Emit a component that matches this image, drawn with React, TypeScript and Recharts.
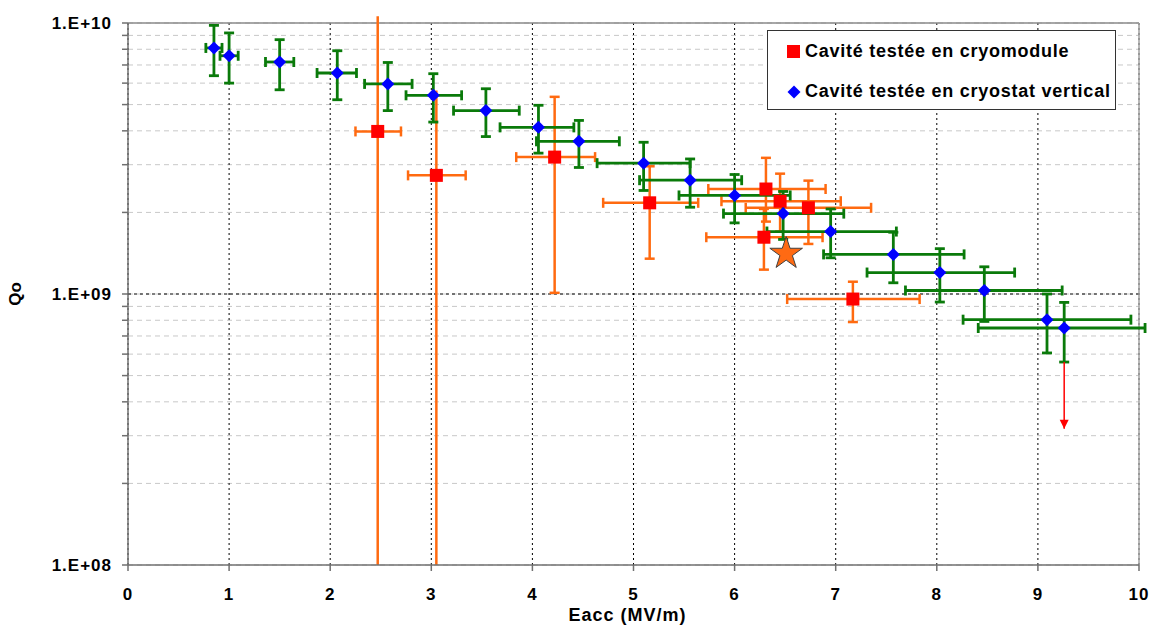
import React from 'react';
import {
  ScatterChart,
  Scatter,
  XAxis,
  YAxis,
  CartesianGrid,
  ErrorBar,
  ReferenceLine,
  Label,
  Symbols,
} from 'recharts';

// Cavité testée en cryomodule (red squares)
const cryoE = [2.47, 3.05, 4.22, 5.16, 6.31, 6.45, 6.73, 6.29, 7.17];
const cryoQ = [3.98e9, 2.74e9, 3.2e9, 2.17e9, 2.44e9, 2.2e9, 2.08e9, 1.62e9, 9.58e8];
const cryoELow = [2.25, 2.77, 3.84, 4.7, 5.74, 5.87, 6.11, 5.72, 6.52];
const cryoEHigh = [2.7, 3.34, 4.62, 5.64, 6.9, 7.05, 7.35, 6.87, 7.83];
// the first two bars run down to the bottom of the plot
const cryoQLow = [1e8, 1e8, 1.01e9, 1.35e9, 1.85e9, 1.7e9, 1.53e9, 1.23e9, 7.88e8];
const cryoQHigh = [1.06e10, 5.63e9, 5.34e9, 2.96e9, 3.18e9, 2.78e9, 2.62e9, 2.06e9, 1.11e9];

// Cavité testée en cryostat vertical (blue diamonds)
const vertE = [0.85, 1.0, 1.5, 2.07, 2.57, 3.02, 3.54, 4.06, 4.46, 5.1, 5.56, 6.0, 6.48, 6.95, 7.57, 8.03, 8.47, 9.09, 9.26];
const vertQ = [8.09e9, 7.57e9, 7.18e9, 6.54e9, 5.96e9, 5.41e9, 4.75e9, 4.12e9, 3.66e9, 3.04e9, 2.63e9, 2.31e9, 1.98e9, 1.7e9, 1.4e9, 1.2e9, 1.03e9, 8.04e8, 7.49e8];
const vertELow = [0.77, 0.91, 1.36, 1.87, 2.34, 2.75, 3.22, 3.68, 4.04, 4.64, 5.06, 5.45, 5.89, 6.32, 6.88, 7.31, 7.69, 8.26, 8.41];
const vertEHigh = [0.93, 1.09, 1.64, 2.26, 2.81, 3.3, 3.87, 4.41, 4.86, 5.56, 6.07, 6.55, 7.08, 7.6, 8.27, 8.77, 9.24, 9.92, 10.06];
const vertQLow = [6.39e9, 6.0e9, 5.67e9, 5.21e9, 4.75e9, 4.31e9, 3.81e9, 3.31e9, 2.93e9, 2.41e9, 2.09e9, 1.83e9, 1.59e9, 1.36e9, 1.1e9, 9.34e8, 7.92e8, 6.06e8, 5.61e8];
const vertQHigh = [9.8e9, 9.19e9, 8.68e9, 7.9e9, 7.15e9, 6.5e9, 5.72e9, 4.97e9, 4.37e9, 3.63e9, 3.15e9, 2.76e9, 2.39e9, 2.06e9, 1.69e9, 1.47e9, 1.26e9, 1.0e9, 9.31e8];

// orange star
const starE = [6.51];
const starQ = [1.41e9];

// red arrow under the last vertical point
const arrowE = [9.26, 9.26];
const arrowQ = [5.61e8, 3.18e8];

const xTicks = [0, 1, 2, 3, 4, 5, 6, 7, 8, 9, 10];
const yTicks = [
  1e8, 2e8, 3e8, 4e8, 5e8, 6e8, 7e8, 8e8, 9e8,
  1e9, 2e9, 3e9, 4e9, 5e9, 6e9, 7e9, 8e9, 9e9, 1e10,
];

const FONT = '"Liberation Sans", Arial, sans-serif';
const Q_MIN = 1e8;

const buildRows = (
  e: number[], q: number[], eLo: number[], eHi: number[], qLo: number[], qHi: number[],
) =>
  e.map((x, i) => ({
    x,
    q: q[i],
    open: qLo[i] <= Q_MIN,
    errX: [x - eLo[i], eHi[i] - x],
    errY: [q[i] - qLo[i], qHi[i] - q[i]],
  }));

const cryoAll = buildRows(cryoE, cryoQ, cryoELow, cryoEHigh, cryoQLow, cryoQHigh);
// bars that reach the axis are drawn without caps
const cryoRows = cryoAll.filter((r) => !r.open);
const cryoOpenRows = cryoAll.filter((r) => r.open);
const vertRows = buildRows(vertE, vertQ, vertELow, vertEHigh, vertQLow, vertQHigh);
const starRows = starE.map((x, i) => ({ x, q: starQ[i] }));
const arrowRows = arrowE.map((x, i) => ({ x, q: arrowQ[i], tip: i === arrowE.length - 1 }));

const yLabel = (v: number) => {
  const exp = Math.round(Math.log10(v));
  if (Math.abs(v - Math.pow(10, exp)) > 1) return '';
  return `1.E+${String(exp).padStart(2, '0')}`;
};

const Square = (p: any) => (
  <rect x={p.cx - 6.5} y={p.cy - 6.5} width={13} height={13} fill="#ff0000" />
);

const Diamond = (p: any) => (
  <polygon
    points={`${p.cx},${p.cy - 6.5} ${p.cx + 6.5},${p.cy} ${p.cx},${p.cy + 6.5} ${p.cx - 6.5},${p.cy}`}
    fill="#0000ff"
  />
);

const Star = (p: any) => (
  <Symbols cx={p.cx} cy={p.cy} type="star" size={330} fill="#ff6a13" stroke="#404040" strokeWidth={1} />
);

const ArrowHead = (p: any) =>
  p.payload && p.payload.tip ? (
    <polygon points={`${p.cx - 4.5},${p.cy - 9} ${p.cx + 4.5},${p.cy - 9} ${p.cx},${p.cy}`} fill="#ff0000" />
  ) : (
    <g />
  );

const tickStyle = { fill: '#000', fontSize: 17, fontWeight: 'bold', fontFamily: FONT, letterSpacing: 1 };

function Legend() {
  const row = { position: 'absolute' as const, left: 19, display: 'flex', alignItems: 'center' };
  const text = { marginLeft: 5, fontSize: 18, fontWeight: 'bold' as const, letterSpacing: 0.75, color: '#000' };
  return (
    <div
      style={{
        position: 'absolute',
        left: 767,
        top: 30,
        width: 347,
        height: 78,
        border: '1px solid #333',
        background: '#fff',
        fontFamily: FONT,
      }}
    >
      <div style={{ ...row, top: 10 }}>
        <div style={{ width: 13, height: 13, background: '#ff0000' }} />
        <span style={text}>Cavité testée en cryomodule</span>
      </div>
      <div style={{ ...row, top: 50 }}>
        <svg width={14} height={14}>
          <polygon points="7,0.5 13.5,7 7,13.5 0.5,7" fill="#0000ff" />
        </svg>
        <span style={{ ...text, marginLeft: 4 }}>Cavité testée en cryostat vertical</span>
      </div>
    </div>
  );
}

export default function App() {
  return (
    <div style={{ position: 'absolute', left: 0, top: 0, width: 1153, height: 626, background: '#fff' }}>
      <ScatterChart width={1153} height={626} margin={{ top: 23, right: 14, bottom: 0, left: 0 }}>
        <CartesianGrid vertical={false} stroke="#c8c8c8" strokeDasharray="5 4" />
        <CartesianGrid horizontal={false} stroke="#000" strokeDasharray="2 3" />
        <XAxis
          type="number"
          dataKey="x"
          domain={[0, 10]}
          ticks={xTicks}
          interval={0}
          allowDataOverflow
          height={61}
          stroke="#707070"
          strokeWidth={1.5}
          tickSize={6}
          tickMargin={17}
          tick={tickStyle}
        >
          <Label
            value="Eacc (MV/m)"
            position="insideBottom"
            offset={5}
            dx={-6}
            style={{ fill: '#000', fontSize: 18, fontWeight: 'bold', fontFamily: FONT, letterSpacing: 1 }}
          />
        </XAxis>
        <YAxis
          type="number"
          dataKey="q"
          scale="log"
          domain={[1e8, 1e10]}
          ticks={yTicks}
          interval={0}
          allowDataOverflow
          width={128}
          stroke="#707070"
          strokeWidth={1.5}
          tickSize={6}
          tickMargin={10}
          tickFormatter={yLabel}
          tick={tickStyle}
        >
          <Label
            content={() => (
              <text
                x={21}
                y={294}
                transform="rotate(-90 21 294)"
                textAnchor="middle"
                fill="#000"
                fontSize={17}
                fontWeight="bold"
                fontFamily={FONT}
              >
                Qo
              </text>
            )}
          />
        </YAxis>
        <ReferenceLine y={1e9} stroke="#000" strokeDasharray="3 3" />
        <ReferenceLine y={1e10} stroke="#8a8a8a" strokeWidth={1.5} />
        <ReferenceLine x={10} stroke="#a0a0a0" strokeWidth={1.5} />

        <Scatter data={cryoOpenRows} shape={Square} isAnimationActive={false}>
          <ErrorBar dataKey="errX" direction="x" stroke="#ff6a10" strokeWidth={2.5} width={5} />
          <ErrorBar dataKey="errY" direction="y" stroke="#ff6a10" strokeWidth={2.5} width={0} />
        </Scatter>
        <Scatter data={cryoRows} shape={Square} isAnimationActive={false}>
          <ErrorBar dataKey="errX" direction="x" stroke="#ff6a10" strokeWidth={2.5} width={5} />
          <ErrorBar dataKey="errY" direction="y" stroke="#ff6a10" strokeWidth={2.5} width={5} />
        </Scatter>
        <Scatter data={vertRows} shape={Diamond} isAnimationActive={false}>
          <ErrorBar dataKey="errX" direction="x" stroke="#0a7a0a" strokeWidth={2.8} width={5} />
          <ErrorBar dataKey="errY" direction="y" stroke="#0a7a0a" strokeWidth={2.8} width={5} />
        </Scatter>
        <Scatter data={starRows} shape={Star} isAnimationActive={false} />
        <Scatter
          data={arrowRows}
          shape={ArrowHead}
          line={{ stroke: '#ff0000', strokeWidth: 1.5 }}
          lineType="joint"
          isAnimationActive={false}
        />
      </ScatterChart>
      <Legend />
    </div>
  );
}
